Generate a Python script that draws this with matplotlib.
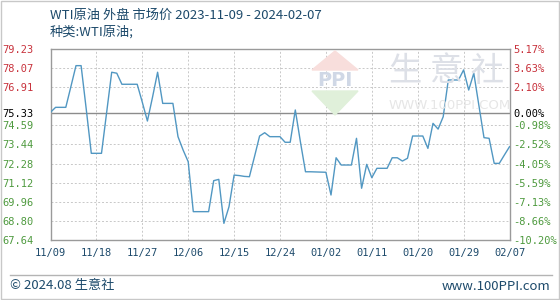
import matplotlib
matplotlib.use("Agg")
import matplotlib.pyplot as plt
from matplotlib.patches import Polygon, Rectangle
from matplotlib.lines import Line2D
import pandas as pd

plt.rcParams['font.family'] = ['Noto Sans CJK SC', 'DejaVu Sans']

# data: one value per calendar day, 2023-11-09 .. 2024-02-07
START = '2023-11-09'
prices = [
    75.39, 75.69, 75.69, 75.69, 76.95, 78.22, 78.22, 75.60, 72.90, 72.90,
    72.90, 75.36, 77.82, 77.76, 77.09, 77.09, 77.09, 77.09, 76.00, 74.86,
    76.30, 77.82, 75.93, 75.93, 75.93, 73.91, 73.10, 72.39, 69.36, 69.36,
    69.36, 69.36, 71.24, 71.32, 68.65, 69.66, 71.58, 71.55, 71.50, 71.48,
    72.70, 73.95, 74.15, 73.91, 73.91, 73.91, 73.57, 73.57, 75.53, 73.60,
    71.78, 71.78, 71.77, 71.76, 71.75, 70.37, 72.63, 72.19, 72.19, 72.19,
    73.81, 70.78, 72.23, 71.42, 71.99, 71.99, 71.99, 72.63, 72.63, 72.43,
    72.60, 73.95, 73.95, 73.95, 73.20, 74.72, 74.37, 75.12, 77.35, 77.35,
    77.35, 77.96, 76.74, 77.76, 75.80, 73.85, 73.81, 72.29, 72.29, 72.80,
    73.30,
]
dates = pd.date_range(START, periods=len(prices), freq='D')

base = 75.33
left_ticks = [79.23, 78.07, 76.91, 75.33, 74.59, 73.44, 72.28, 71.12, 69.96, 68.80, 67.64]
left_labels = ['79.23', '78.07', '76.91', '75.33', '74.59', '73.44', '72.28', '71.12', '69.96', '68.80', '67.64']
right_labels = ['5.17%', '3.63%', '2.10%', '0.00%', '-0.98%', '-2.52%', '-4.05%', '-5.59%', '-7.13%', '-8.66%', '-10.20%']
x_ticks = pd.date_range(START, '2024-02-07', freq='9D')
x_labels = ['11/09', '11/18', '11/27', '12/06', '12/15', '12/24', '01/02', '01/11', '01/20', '01/29', '02/07']

title = 'WTI原油 外盘 市场价 2023-11-09 - 2024-02-07'
subtitle = '种类:WTI原油;'

RED = '#c8323c'
GREEN = '#4e9a3e'
NAVY = '#1d4a6b'
LINE = '#5197c2'


def label_color(v):
    if v > base:
        return RED
    if v < base:
        return GREEN
    return 'black'


fig = plt.figure(figsize=(5.6, 3.0), dpi=100)
ax = fig.add_axes([50.5 / 560, 1 - 240 / 300, 459 / 560, 191 / 300])

# watermark logo and text
W, H = 560.0, 300.0
def fx(x): return x / W
def fy(y): return 1 - y / H
fig.patches.append(Polygon([(fx(335), fy(51)), (fx(358), fy(70)), (fx(312), fy(70))],
                           closed=True, transform=fig.transFigure, color='#f8dedc', zorder=0))
fig.patches.append(Polygon([(fx(312), fy(91)), (fx(358), fy(91)), (fx(335), fy(115))],
                           closed=True, transform=fig.transFigure, color='#e0f0da', zorder=0))
fig.text(fx(335), fy(81), 'PPI', ha='center', va='center', fontsize=14, fontweight='bold',
         color='#d0d8e6', family='DejaVu Sans', zorder=0)
fig.text(fx(447), fy(72), '生 意 社', ha='center', va='center', fontsize=24,
         color='#dde0e7', zorder=0)
fig.text(fx(450), fy(106), 'WWW.100PPI.COM', ha='center', va='center', fontsize=9.5,
         color='#e6e6e6', family='DejaVu Sans', zorder=0)
ax.set_facecolor('none')

ax.plot(dates, prices, color=LINE, lw=1.0, zorder=3)
ax.axhline(base, color='#8c8c8c', lw=1.0, zorder=2)

ax.set_xlim(pd.Timestamp(START), pd.Timestamp('2024-02-07'))
ax.set_ylim(67.64, 79.23)

ax.set_yticks(left_ticks)
ax.set_yticklabels(left_labels, family='DejaVu Sans Mono', fontsize=7.5)
for t, v in zip(ax.get_yticklabels(), left_ticks):
    t.set_color(label_color(v))
ax.set_xticks(x_ticks)
ax.set_xticklabels(x_labels, family='DejaVu Sans Mono', fontsize=7.5, color=NAVY)
ax.tick_params(axis='y', length=0, pad=12)
ax.tick_params(axis='x', length=0, pad=6)

for v in left_ticks:
    if v != base:
        ax.axhline(v, color='#c8c8c8', lw=0.7, ls=(0, (2, 2)), zorder=1)
for d in x_ticks:
    ax.axvline(d, color='#c8c8c8', lw=0.7, ls=(0, (2, 2)), zorder=1)

for s in ax.spines.values():
    s.set_color('#9a9a9a')
    s.set_linewidth(1.0)

ax2 = ax.twinx()
ax2.set_ylim((67.64 / base - 1) * 100, (79.23 / base - 1) * 100)
ax2.set_yticks([(v / base - 1) * 100 for v in left_ticks])
ax2.set_yticklabels(right_labels, family='DejaVu Sans Mono', fontsize=7.5)
for t, v in zip(ax2.get_yticklabels(), left_ticks):
    t.set_color(label_color(v))
ax2.tick_params(axis='y', length=0, pad=3)
for s in ax2.spines.values():
    s.set_visible(False)

fig.text(fx(50), fy(15), title, ha='left', va='center', fontsize=9.5, color=NAVY)
fig.text(fx(50), fy(32), subtitle, ha='left', va='center', fontsize=9.5, color=NAVY)

# footer
fig.lines.append(Line2D([fx(10), fx(552)], [fy(275), fy(275)], transform=fig.transFigure,
                        color='#b4b4b4', lw=1.0))
fig.text(fx(10), fy(286), '© 2024.08 生意社', ha='left', va='center', fontsize=9.5, color=NAVY)
fig.text(fx(550), fy(286), 'www.100PPI.com', ha='right', va='center', fontsize=9.5, color=NAVY)
fig.patches.append(Rectangle((0.001, 0.002), 0.997, 0.995, transform=fig.transFigure,
                             fill=False, edgecolor='#c8c8c8', lw=1.0))

fig.savefig('out.png', dpi=100)
